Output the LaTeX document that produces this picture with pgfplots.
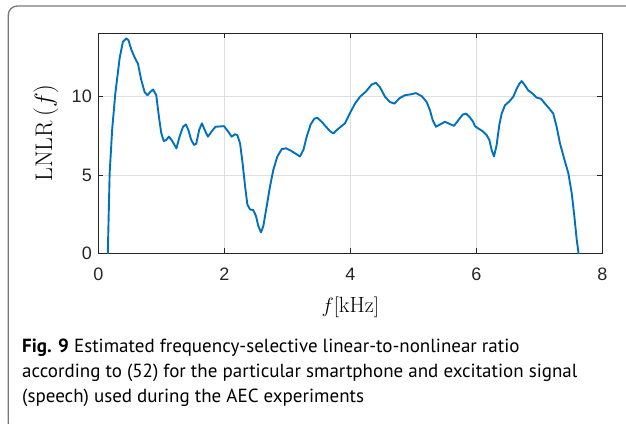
\documentclass[border=0pt]{standalone}
\usepackage{fontspec}
\usepackage{pgfplots}
\pgfplotsset{compat=1.18}
\newfontfamily\helv{Liberation Sans}
\newfontfamily\capfont{PT Sans}
\definecolor{mblue}{RGB}{0,114,189}
\definecolor{axc}{RGB}{38,38,38}
\definecolor{gridc}{RGB}{223,223,223}
\definecolor{framec}{RGB}{120,120,120}
\begin{document}
\begin{tikzpicture}
\path[use as bounding box] (0pt,0pt) rectangle (626pt,-423pt);
\begin{scope}
\clip (0pt,0pt) rectangle (626pt,-423pt);
\draw[framec, line width=1.3pt, rounded corners=9pt] (8.3pt,-6pt) rectangle (660pt,-432pt);
\end{scope}
\begin{axis}[
  at={(98.3pt,-253.3pt)}, anchor=south west,
  scale only axis, width=504pt, height=220pt,
  xmin=0, xmax=8, ymin=0, ymax=14.05,
  xtick={0,2,4,6,8}, ytick={0,5,10},
  grid=major, grid style={gridc, line width=0.7pt},
  axis line style={axc, line width=0.8pt},
  tick style={axc, line width=0.8pt},
  tick align=inside, major tick length=5pt,
  /pgf/number format/assume math mode=true,
  tick label style={font=\helv\fontsize{18}{20}\selectfont, text=axc},
  xticklabel style={anchor=north, yshift=-11pt},
  yticklabel style={xshift=-3pt},
  xlabel={$f[\mathrm{kHz}]$},
  ylabel={$\mathrm{LNLR}\,(f)$},
  xlabel style={font=\fontsize{22}{24}\selectfont, at={(axis description cs:0.5,-0.267)}, anchor=base},
  ylabel style={font=\fontsize{24}{26}\selectfont, at={(axis description cs:-0.104,0.547)}, anchor=center, rotate=0},
  clip=true,
]
\addplot[mblue, line width=1.9pt, line join=round] coordinates {
(0.15,-0.2) (0.18,5.1) (0.22,7.9) (0.27,10.2) (0.34,12.5) (0.39,13.5) (0.445,13.73)
(0.48,13.6) (0.525,13.0) (0.567,12.6) (0.63,12.1) (0.68,11.1) (0.735,10.3) (0.78,10.1)
(0.825,10.3) (0.87,10.46) (0.92,10.1) (0.963,8.7) (1.0,7.66) (1.04,7.17) (1.08,7.24)
(1.12,7.45) (1.17,7.2) (1.24,6.7) (1.29,7.45) (1.345,8.08) (1.39,8.23) (1.43,7.87)
(1.475,7.24) (1.52,6.92) (1.555,7.0) (1.6,7.87) (1.645,8.3) (1.69,7.87) (1.74,7.45)
(1.795,7.76) (1.86,8.08) (1.925,8.1) (1.995,8.12) (2.064,7.76) (2.117,7.45) (2.17,7.6)
(2.207,7.55) (2.25,7.03) (2.29,5.76) (2.33,4.28) (2.366,3.12) (2.408,2.8) (2.46,2.76)
(2.503,2.38) (2.54,1.75) (2.583,1.33) (2.62,1.75) (2.673,3.0) (2.726,4.28) (2.779,5.34)
(2.842,6.18) (2.911,6.65) (2.98,6.71) (3.054,6.56) (3.138,6.35) (3.2,6.18) (3.255,6.6)
(3.308,7.45) (3.371,8.23) (3.43,8.6) (3.477,8.65) (3.546,8.4) (3.615,8.08) (3.678,7.8)
(3.73,7.66) (3.784,7.87) (3.847,8.08) (3.916,8.3) (3.996,8.97) (4.075,9.56) (4.155,10.0)
(4.25,10.34) (4.34,10.78) (4.408,10.89) (4.472,10.6) (4.551,10.0) (4.63,9.66) (4.7,9.56)
(4.78,9.9) (4.869,10.1) (4.959,10.15) (5.043,10.23) (5.133,10.04) (5.213,9.66) (5.265,9.13)
(5.308,8.5) (5.36,8.08) (5.424,8.23) (5.503,8.4) (5.583,8.25) (5.646,8.14) (5.715,8.5)
(5.784,8.86) (5.837,8.92) (5.9,8.67) (5.95,8.4) (5.979,8.12) (6.032,7.97) (6.1,7.8)
(6.164,7.55) (6.207,7.24) (6.244,6.6) (6.281,6.18) (6.323,6.92) (6.365,8.19) (6.402,8.92)
(6.455,9.45) (6.524,9.7) (6.588,10.0) (6.64,10.5) (6.683,10.82) (6.72,11.0) (6.762,10.78)
(6.826,10.4) (6.894,10.2) (6.958,9.94) (7.027,9.87) (7.09,9.56) (7.159,9.24) (7.222,8.92)
(7.275,8.08) (7.328,7.03) (7.392,6.08) (7.46,5.13) (7.514,3.86) (7.556,2.38) (7.593,0.9)
(7.63,-0.2)
};
\end{axis}
\node[anchor=base west, inner sep=0pt, font=\capfont\fontsize{19}{22}\selectfont] at (22pt,-352pt) {\textbf{Fig. 9} Estimated frequency-selective linear-to-nonlinear ratio};
\node[anchor=base west, inner sep=0pt, font=\capfont\fontsize{19}{22}\selectfont] at (22pt,-377pt) {according to (52) for the particular smartphone and excitation signal};
\node[anchor=base west, inner sep=0pt, font=\capfont\fontsize{19}{22}\selectfont] at (22pt,-402pt) {(speech) used during the AEC experiments};
\end{tikzpicture}
\end{document}
